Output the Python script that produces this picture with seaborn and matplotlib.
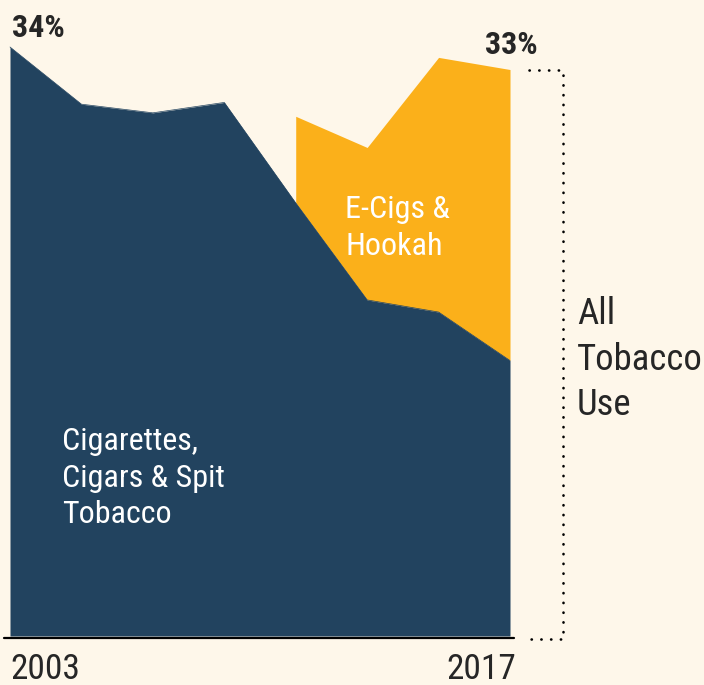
import matplotlib.pyplot as plt
import seaborn as sns

# Youth tobacco use, %
years = [2003, 2005, 2007, 2009, 2011, 2013, 2015, 2017]
combustible = [34.0, 30.7, 30.2, 30.8, 25.0, 19.4, 18.7, 15.9]
ecig_years = [2011, 2013, 2015, 2017]
all_tobacco = [30.0, 28.2, 33.4, 32.7]

NAVY = "#22435f"
GOLD = "#fbb01a"
BG = "#fef7ea"

sns.set_theme(style="white")
plt.rcParams["font.family"] = ["Roboto Condensed", "Roboto", "DejaVu Sans"]

fig = plt.figure(figsize=(7.04, 6.85), dpi=100, facecolor=BG)
ax = fig.add_axes([0, 0, 1, 1])
ax.set_facecolor(BG)

# pixel scale: 2003..2017 spans 500px, 0..34% spans 589px
px_x = 500 / 14.0
px_y = 589 / 34.0
ax.set_xlim(2003 - 10 / px_x, 2003 + 694 / px_x)
ax.set_ylim(-49 / px_y, 636 / px_y)

# stacked areas
base = dict(zip(years, combustible))
ecig_base = [base[y] for y in ecig_years]
ax.fill_between(ecig_years, ecig_base, all_tobacco, color=GOLD, linewidth=0)
ax.fill_between(years, 0, combustible, color=NAVY, linewidth=0)
sns.lineplot(x=years, y=combustible, ax=ax, color=NAVY, linewidth=0.5)

# baseline
ax.plot([2003 - 6 / px_x, 2017 + 4 / px_x], [-2 / px_y] * 2, color="black", lw=1.6)

# dotted bracket for total
bx0 = 2017 + 19 / px_x
bx1 = 2017 + 53 / px_x
ytop = all_tobacco[-1]
ybot = -3 / px_y
ax.plot([bx0, bx1, bx1, bx0], [ytop, ytop, ybot, ybot], color="black", lw=1.9,
        linestyle=(0, (0.1, 3.6)), dash_capstyle="round")

ax.text(2003 + 2 / px_x, 34.58, f"{combustible[0]:.0f}%",
        fontsize=23, fontweight="bold", va="baseline", ha="left")
ax.text(2017 + 28 / px_x, 33.6, f"{ytop:.0f}%",
        fontsize=23, fontweight="bold", va="baseline", ha="right")

ax.text(2003, -2.5, "2003", fontsize=25.5, va="baseline", ha="left")
ax.text(2017 + 6 / px_x, -2.5, "2017", fontsize=25.5, va="baseline", ha="right")

ax.text(2017 + 67 / px_x, 15.95, "All\nTobacco\nUse", fontsize=26.5,
        va="center", ha="left", linespacing=1.33)

ax.text(2003 + 52 / px_x, 9.1, "Cigarettes,\nCigars & Spit\nTobacco",
        fontsize=23, color="white", va="center", ha="left", linespacing=1.33)
ax.text(2003 + 335 / px_x, 23.55, "E-Cigs &\nHookah",
        fontsize=23, color="white", va="center", ha="left", linespacing=1.33)

ax.axis("off")
fig.savefig("out.png", dpi=100, facecolor=BG)
